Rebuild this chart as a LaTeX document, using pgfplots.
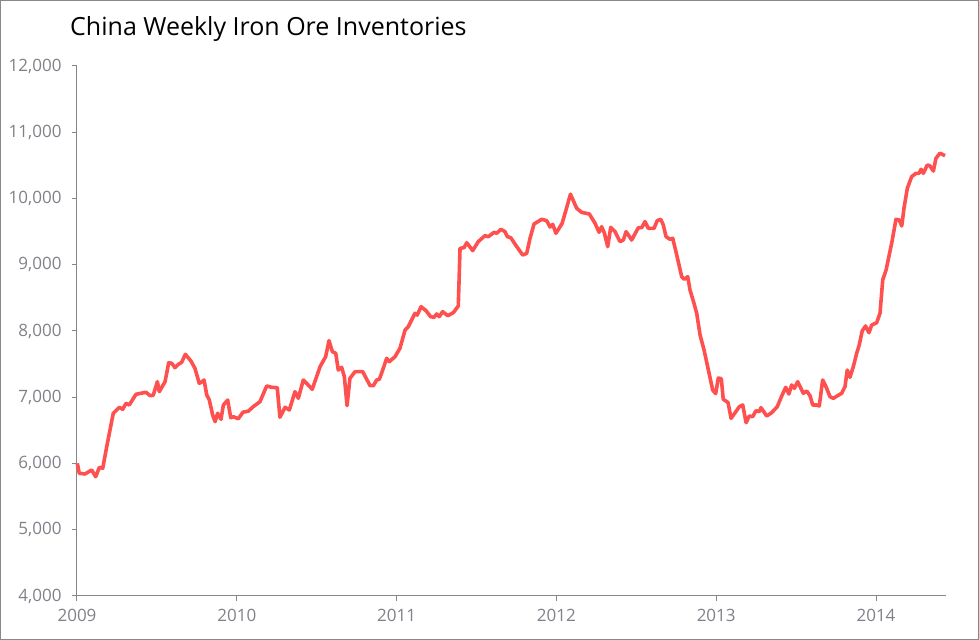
\documentclass[border=0pt]{standalone}
\usepackage{pgfplots}
\pgfplotsset{compat=1.18}
\usepackage{fontspec}
\setmainfont{Open Sans}
\definecolor{axisgray}{RGB}{134,134,134}
\definecolor{labelgray}{RGB}{128,128,136}
\definecolor{framegray}{RGB}{136,136,136}
\definecolor{linered}{RGB}{255,80,80}
\begin{document}
\begin{tikzpicture}
\useasboundingbox (0,0) rectangle (979bp,640bp);
\draw[framegray, line width=1bp] (0.5bp,0.5bp) rectangle (978.5bp,639.5bp);
\node[anchor=base west, inner sep=0pt, font=\fontsize{25bp}{29bp}\selectfont] at (70bp,604bp) {China Weekly Iron Ore Inventories};
\begin{axis}[
 at={(77bp,44bp)}, anchor=south west,
 scale only axis, width=869bp, height=530bp,
 xmin=2009, xmax=2014.438, ymin=4000, ymax=12000,
 axis x line*=bottom, axis y line*=left,
 axis line style={axisgray, line width=1bp},
 xtick={2009,2010,2011,2012,2013,2014},
 ytick={4000,5000,6000,7000,8000,9000,10000,11000,12000},
 scaled x ticks=false, scaled y ticks=false,
 tick align=outside, major tick length=5bp,
 tick style={axisgray, line width=1bp},
 ticklabel style={font=\fontsize{17bp}{19bp}\selectfont, text=labelgray},
 /pgf/number format/assume math mode=true,
 x tick label style={/pgf/number format/1000 sep={}, /pgf/number format/fixed, yshift=-5bp},
 y tick label style={/pgf/number format/1000 sep={,}, /pgf/number format/fixed, xshift=-7bp},
 clip=false,
]
\addplot[color=linered, line width=3.6bp, line join=round, mark=none] table[x=x, y=y] {
x y
2009.002 6003
2009.014 5852
2009.050 5842
2009.092 5902
2009.117 5800
2009.140 5942
2009.161 5928
2009.186 6254
2009.227 6758
2009.265 6848
2009.286 6818
2009.307 6909
2009.327 6883
2009.369 7045
2009.432 7075
2009.457 7024
2009.477 7030
2009.503 7235
2009.515 7084
2009.551 7235
2009.574 7522
2009.593 7512
2009.613 7446
2009.634 7497
2009.655 7527
2009.678 7648
2009.713 7547
2009.738 7437
2009.765 7210
2009.780 7230
2009.795 7260
2009.812 7034
2009.828 6958
2009.849 6732
2009.864 6631
2009.880 6758
2009.901 6667
2009.916 6883
2009.943 6958
2009.962 6690
2009.978 6707
2010.009 6675
2010.039 6775
2010.072 6790
2010.103 6858
2010.145 6933
2010.187 7170
2010.218 7150
2010.253 7145
2010.270 6698
2010.302 6848
2010.329 6808
2010.364 7084
2010.385 6984
2010.416 7260
2010.441 7200
2010.472 7120
2010.521 7461
2010.556 7612
2010.577 7854
2010.598 7688
2010.619 7663
2010.635 7411
2010.656 7452
2010.673 7310
2010.690 6873
2010.708 7286
2010.740 7386
2010.788 7386
2010.834 7175
2010.854 7175
2010.875 7260
2010.892 7270
2010.913 7411
2010.938 7588
2010.954 7537
2010.990 7612
2011.021 7740
2011.053 8015
2011.073 8065
2011.115 8267
2011.129 8240
2011.153 8367
2011.184 8307
2011.213 8216
2011.234 8206
2011.251 8257
2011.267 8216
2011.288 8292
2011.320 8231
2011.355 8277
2011.386 8377
2011.397 9248
2011.422 9258
2011.439 9333
2011.476 9213
2011.511 9349
2011.553 9439
2011.574 9424
2011.610 9490
2011.626 9475
2011.653 9535
2011.678 9500
2011.693 9424
2011.714 9409
2011.752 9273
2011.789 9147
2011.814 9172
2011.835 9399
2011.860 9615
2011.908 9686
2011.939 9666
2011.960 9570
2011.977 9610
2011.997 9475
2012.035 9620
2012.060 9826
2012.088 10065
2012.127 9852
2012.158 9791
2012.206 9766
2012.242 9625
2012.267 9490
2012.283 9575
2012.300 9480
2012.321 9273
2012.340 9565
2012.367 9500
2012.398 9349
2012.419 9374
2012.436 9500
2012.471 9374
2012.513 9560
2012.534 9560
2012.554 9651
2012.575 9550
2012.611 9550
2012.631 9666
2012.653 9686
2012.669 9600
2012.686 9424
2012.711 9384
2012.728 9399
2012.753 9147
2012.784 8820
2012.800 8780
2012.822 8820
2012.836 8619
2012.861 8418
2012.878 8267
2012.899 7940
2012.924 7713
2012.951 7411
2012.978 7109
2012.997 7055
2013.013 7290
2013.032 7280
2013.044 6970
2013.074 6920
2013.093 6682
2013.145 6858
2013.166 6883
2013.187 6616
2013.207 6717
2013.228 6707
2013.249 6797
2013.270 6783
2013.280 6843
2013.316 6717
2013.347 6767
2013.382 6858
2013.410 7019
2013.435 7150
2013.455 7049
2013.472 7185
2013.489 7135
2013.510 7235
2013.545 7060
2013.566 7094
2013.587 7024
2013.604 6883
2013.629 6883
2013.645 6868
2013.666 7260
2013.687 7159
2013.712 7009
2013.733 6984
2013.785 7060
2013.806 7159
2013.820 7411
2013.837 7301
2013.858 7461
2013.879 7663
2013.895 7789
2013.914 8005
2013.935 8075
2013.956 7974
2013.973 8090
2014.004 8125
2014.025 8267
2014.042 8770
2014.063 8921
2014.098 9324
2014.125 9686
2014.146 9675
2014.161 9585
2014.175 9852
2014.196 10154
2014.223 10330
2014.250 10380
2014.269 10380
2014.282 10441
2014.296 10380
2014.321 10506
2014.338 10491
2014.359 10415
2014.375 10607
2014.400 10683
2014.432 10647
};
\end{axis}
\end{tikzpicture}
\end{document}
